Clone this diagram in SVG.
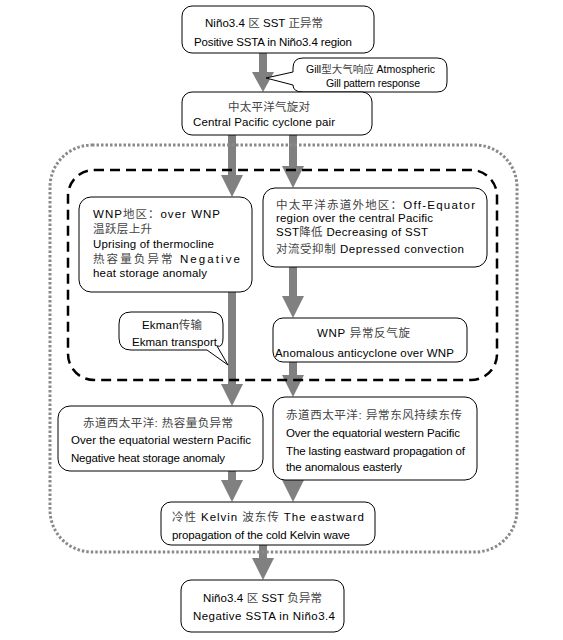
<svg xmlns="http://www.w3.org/2000/svg" width="563" height="640" viewBox="0 0 563 640">
<style>
.bg{fill:#fff}
.box{fill:#fff;stroke:#000;stroke-width:1}
.arr{fill:#808080;stroke:none}
.outer{fill:none;stroke:#8a8a8a;stroke-width:3;stroke-dasharray:2.5 2}
.inner{fill:none;stroke:#000;stroke-width:2.5;stroke-dasharray:10 6}
text{font-family:"Liberation Sans","Noto Sans CJK SC",sans-serif;font-size:11.5px;fill:#000}
.zh{fill:#444}
.sm{font-size:10.5px}
</style>
<rect class="bg" x="0" y="0" width="563" height="640"/>
<g id="connectors">
<polygon class="arr" points="259,53 267,53 267,72 274,72 263,92 252,72 259,72"/>
<polygon class="arr" points="228,135 236,135 236,175 243,175 232,197 221,175 228,175"/>
<polygon class="arr" points="289,135 297,135 297,166 304,166 293,188 282,166 289,166"/>
<polygon class="arr" points="228,292 236,292 236,384 243,384 232,406 221,384 228,384"/>
<polygon class="arr" points="289,267 297,267 297,296 304,296 293,318 282,296 289,296"/>
<polygon class="arr" points="289,362 297,362 297,375 304,375 293,397 282,375 289,375"/>
<polygon class="arr" points="228,471 236,471 236,480 243,480 232,502 221,480 228,480"/>
<polygon class="arr" points="289,478 297,478 297,480 304,480 293,502 282,480 289,480"/>
<polygon class="arr" points="259,545 267,545 267,558 274,558 263,580 252,558 259,558"/>
</g>
<g id="frames">
<rect class="outer" x="50" y="145" width="467" height="407" rx="42" ry="42"/>
<rect class="inner" x="68" y="170" width="429" height="210" rx="26" ry="26"/>
</g>
<g id="n_top">
<rect class="box" x="182" y="6" width="192" height="47" rx="10"/>
<text x="205" y="27" textLength="118" lengthAdjust="spacing">Niño3.4 <tspan class="zh">区</tspan> SST <tspan class="zh">正异常</tspan></text>
<text x="194" y="46" textLength="158" lengthAdjust="spacing">Positive SSTA in Niño3.4 region</text>
</g>
<g id="n_gill">
<path class="box" d="M303,58 H437 Q447,58 447,68 V82 Q447,92 437,92 H303 Q293,92 293,85 L266,78 L293,72 V68 Q293,58 303,58 Z"/>
<text x="306" y="73" class="sm" textLength="129" lengthAdjust="spacing">Gill<tspan class="zh">型大气响应</tspan>  Atmospheric</text>
<text x="326" y="87" class="sm" textLength="94" lengthAdjust="spacing">Gill pattern response</text>
</g>
<g id="n_cyclone">
<rect class="box" x="182" y="92" width="190" height="43" rx="10"/>
<text x="228" y="111" class="zh" textLength="82" lengthAdjust="spacing">中太平洋气旋对</text>
<text x="193" y="126" textLength="142" lengthAdjust="spacing">Central Pacific cyclone pair</text>
</g>
<g id="n_wnp">
<rect class="box" x="79" y="197" width="173" height="95" rx="12"/>
<text x="93" y="218" textLength="127" lengthAdjust="spacing">WNP<tspan class="zh">地区：</tspan>over   WNP</text>
<text x="93" y="233" class="zh" textLength="59" lengthAdjust="spacing">温跃层上升</text>
<text x="93" y="248" textLength="121" lengthAdjust="spacing">Uprising of thermocline</text>
<text x="93" y="263" textLength="147" lengthAdjust="spacing"><tspan class="zh">热容量负异常</tspan>  Negative</text>
<text x="93" y="277" textLength="114" lengthAdjust="spacing">heat storage anomaly</text>
</g>
<g id="n_offeq">
<rect class="box" x="263" y="188" width="224" height="79" rx="12"/>
<text x="276" y="209" textLength="199" lengthAdjust="spacing"><tspan class="zh">中太平洋赤道外地区：</tspan>Off-Equator</text>
<text x="276" y="222" textLength="157" lengthAdjust="spacing">region over the central Pacific</text>
<text x="276" y="236" textLength="152" lengthAdjust="spacing">SST<tspan class="zh">降低</tspan>  Decreasing of SST</text>
<text x="276" y="253" textLength="188" lengthAdjust="spacing"><tspan class="zh">对流受抑制</tspan>   Depressed convection</text>
</g>
<g id="n_ekman">
<path class="box" d="M131,312 H211 Q223,312 223,324 V338 Q223,348 217,346 L228,365 L207,350 H131 Q119,350 119,338 V324 Q119,312 131,312 Z"/>
<text x="142" y="329" textLength="60" lengthAdjust="spacing">Ekman<tspan class="zh">传输</tspan></text>
<text x="132" y="346" textLength="85" lengthAdjust="spacing">Ekman transport</text>
</g>
<g id="n_anticyclone">
<rect class="box" x="273" y="318" width="194" height="44" rx="10"/>
<text x="317" y="337" textLength="93" lengthAdjust="spacing">WNP  <tspan class="zh">异常反气旋</tspan></text>
<text x="275" y="357" textLength="179" lengthAdjust="spacing">Anomalous anticyclone over WNP</text>
</g>
<g id="n_heat">
<rect class="box" x="58" y="406" width="205" height="65" rx="12"/>
<text x="83" y="427" class="zh" textLength="150" lengthAdjust="spacing">赤道西太平洋: 热容量负异常</text>
<text x="71" y="444" textLength="180" lengthAdjust="spacing">Over the equatorial western Pacific</text>
<text x="71" y="462" textLength="154" lengthAdjust="spacing">Negative heat storage anomaly</text>
</g>
<g id="n_easterly">
<rect class="box" x="273" y="397" width="204" height="83" rx="12"/>
<text x="286" y="419" class="zh" textLength="176" lengthAdjust="spacing">赤道西太平洋: 异常东风持续东传</text>
<text x="286" y="437" textLength="174" lengthAdjust="spacing">Over the equatorial western Pacific</text>
<text x="286" y="455" textLength="179" lengthAdjust="spacing">The lasting eastward propagation of</text>
<text x="286" y="471" textLength="116" lengthAdjust="spacing">the anomalous easterly</text>
</g>
<g id="n_kelvin">
<rect class="box" x="161" y="502" width="214" height="43" rx="10"/>
<text x="172" y="521" textLength="192" lengthAdjust="spacing"><tspan class="zh">冷性</tspan> Kelvin <tspan class="zh">波东传</tspan> The eastward</text>
<text x="172" y="539" textLength="178" lengthAdjust="spacing">propagation of the cold Kelvin wave</text>
</g>
<g id="n_bottom">
<rect class="box" x="181" y="580" width="163" height="52" rx="10"/>
<text x="203" y="602" textLength="119" lengthAdjust="spacing">Niño3.4 <tspan class="zh">区</tspan> SST <tspan class="zh">负异常</tspan></text>
<text x="193" y="620" textLength="142" lengthAdjust="spacing">Negative SSTA in Niño3.4</text>
</g>
</svg>
